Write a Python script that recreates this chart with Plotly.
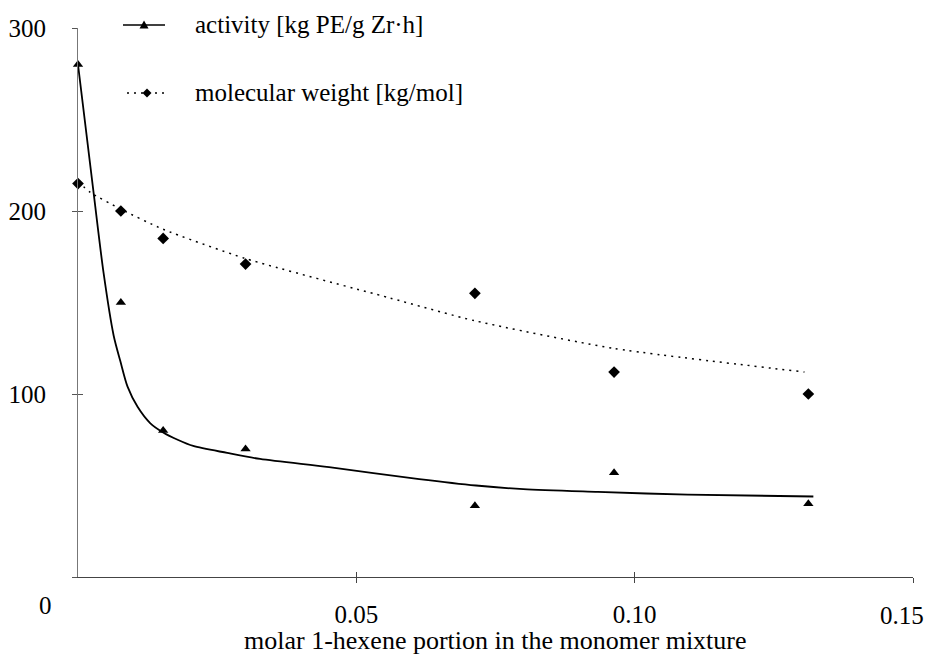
import plotly.graph_objects as go

# measured data points
x_pts = [0.0, 0.0077, 0.0153, 0.0301, 0.0713, 0.0963, 0.1312]
activity = [280, 150, 80, 70, 39, 57, 40]
mol_weight = [215, 200, 185, 171, 155, 112, 100]

# trend curves
act_curve_x = [0.0, 0.0028, 0.0046, 0.0064, 0.0076, 0.0089, 0.0107, 0.0130, 0.0153, 0.0179,
               0.0207, 0.0268, 0.0327, 0.0451, 0.0613, 0.0715, 0.0800, 0.0934, 0.1095, 0.1321]
act_curve_y = [280, 210, 166, 132, 118, 104, 93, 84, 79, 75,
               71.6, 67.8, 64.5, 60, 53.5, 50, 48, 46.5, 45, 44]
mw_curve_x = [0.0, 0.0023, 0.0077, 0.0153, 0.0301, 0.056, 0.0713, 0.0961, 0.1305]
mw_curve_y = [216, 210, 201, 190, 174, 152.5, 140, 125, 112]

x_ticks = [0.05, 0.10, 0.15]
x_tick_text = ["0.05", "0.10", ""]
last_x_label = "0.15"
y_ticks = [0, 100, 200, 300]
y_tick_text = ["", "100", "200", "300"]

legend_labels = ["activity [kg PE/g Zr·h]", "molecular weight [kg/mol]"]
x_title = "molar 1-hexene portion in the monomer mixture"

FONT = "Liberation Serif, Times New Roman, serif"
FS_TICK = 25
FS_TEXT = 25
FS_TITLE = 26

fig = go.Figure()
fig.add_trace(go.Scatter(x=act_curve_x, y=act_curve_y, mode="lines",
                         line=dict(color="black", width=1.8, shape="spline", smoothing=0.8),
                         showlegend=False, hoverinfo="skip"))
fig.add_trace(go.Scatter(x=mw_curve_x, y=mw_curve_y, mode="lines",
                         line=dict(color="black", width=1.5, dash="2px,5px", shape="spline", smoothing=0.6),
                         showlegend=False, hoverinfo="skip"))
fig.add_trace(go.Scatter(x=x_pts, y=activity, mode="markers",
                         marker=dict(symbol="triangle-up", size=9, color="black"),
                         showlegend=False, cliponaxis=False))
fig.add_trace(go.Scatter(x=x_pts, y=mol_weight, mode="markers",
                         marker=dict(symbol="diamond", size=9, color="black"),
                         showlegend=False, cliponaxis=False))

L, R, T, B = 78, 16, 28, 85
W, H = 929, 662
pw, ph = W - L - R, H - T - B

def px(xp):
    return (xp - L) / pw

def py(yp):
    return (H - B - yp) / ph

# manual legend
fig.add_shape(type="line", xref="paper", yref="paper", x0=px(123), x1=px(165),
              y0=py(25), y1=py(25), line=dict(color="black", width=1.5))
fig.add_shape(type="path", xref="paper", yref="paper", xsizemode="pixel", ysizemode="pixel",
              xanchor=px(144), yanchor=py(25), path="M -4.5 -3.5 L 4.5 -3.5 L 0 4.5 Z",
              fillcolor="black", line=dict(width=0))
fig.add_shape(type="line", xref="paper", yref="paper", x0=px(127), x1=px(167),
              y0=py(93), y1=py(93), line=dict(color="black", width=1.5, dash="2px,5px"))
fig.add_shape(type="path", xref="paper", yref="paper", xsizemode="pixel", ysizemode="pixel",
              xanchor=px(147), yanchor=py(93), path="M -4.5 0 L 0 4.5 L 4.5 0 L 0 -4.5 Z",
              fillcolor="black", line=dict(width=0))
for lbl, yy in zip(legend_labels, [24, 92]):
    fig.add_annotation(text=lbl, xref="paper", yref="paper", x=px(193), y=py(yy),
                       xanchor="left", yanchor="middle", showarrow=False,
                       font=dict(family=FONT, size=FS_TEXT, color="black"))

# origin label
fig.add_annotation(text="0", xref="paper", yref="paper", x=px(45), y=py(605),
                   xanchor="center", yanchor="middle", showarrow=False,
                   font=dict(family=FONT, size=FS_TICK, color="black"))

# last x tick label, kept inside the page as in the reference
fig.add_annotation(text=last_x_label, xref="paper", yref="paper", x=px(926), y=py(615),
                   xanchor="right", yanchor="middle", showarrow=False,
                   font=dict(family=FONT, size=FS_TICK, color="black"))

# x-axis title
fig.add_annotation(text=x_title, xref="paper", yref="paper", x=px(495), y=py(640),
                   xanchor="center", yanchor="middle", showarrow=False,
                   font=dict(family=FONT, size=FS_TITLE, color="black"))

fig.update_layout(
    width=W, height=H,
    margin=dict(l=L, r=R, t=T, b=B, autoexpand=False),
    paper_bgcolor="white", plot_bgcolor="white",
    font=dict(family=FONT, size=FS_TICK, color="black"),
    xaxis=dict(range=[0, 0.15], tickvals=x_ticks, ticktext=x_tick_text, automargin=False,
               showgrid=False, zeroline=False, showline=True, linecolor="#444", linewidth=1,
               ticks="outside", ticklen=5, tickcolor="#444", ticklabelstandoff=10,
               ticklabeloverflow="allow",
               tickfont=dict(family=FONT, size=FS_TICK, color="black")),
    yaxis=dict(range=[0, 300], tickvals=y_ticks, ticktext=y_tick_text, automargin=False,
               showgrid=False, zeroline=False, showline=True, linecolor="#777", linewidth=1,
               ticks="outside", ticklen=5, tickcolor="#555", ticklabelstandoff=21,
               tickfont=dict(family=FONT, size=FS_TICK, color="black")),
    xaxis2=dict(range=[0, 0.15], overlaying="x", anchor="y", tickvals=[0] + x_ticks, automargin=False,
                showticklabels=False, showgrid=False, zeroline=False, showline=False,
                ticks="inside", ticklen=5, tickcolor="#444"),
    yaxis2=dict(range=[0, 300], overlaying="y", anchor="x", tickvals=y_ticks, automargin=False,
                showticklabels=False, showgrid=False, zeroline=False, showline=False,
                ticks="inside", ticklen=5, tickcolor="#555"),
    showlegend=False,
)
fig.add_trace(go.Scatter(x=[None], y=[None], xaxis="x2", yaxis="y2", showlegend=False))

fig.write_html("out.html", config={"displayModeBar": False},
               post_script="document.body.style.margin='0';document.body.style.overflow='hidden';")
